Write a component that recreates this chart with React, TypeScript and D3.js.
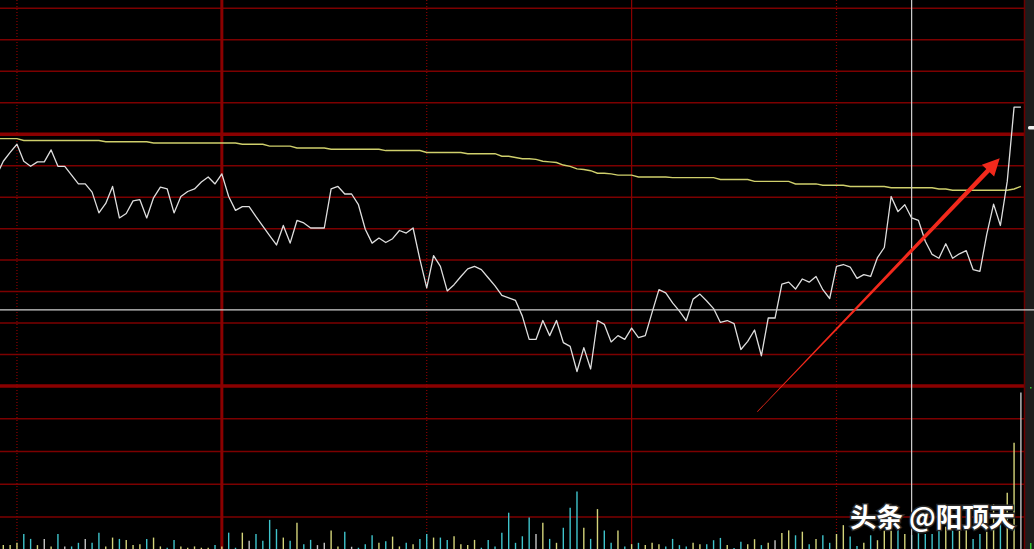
import { useEffect, useRef } from "react";
import * as d3 from "d3";

// 分时数据：第一个点是可见区域左侧之前的一分钟
const FIRST_MINUTE = -1;

// 涨跌幅(%)，每分钟一个点
const PRICE = [
  -0.66, -0.43, -0.29, -0.16, -0.43, -0.51, -0.44, -0.44, -0.25, -0.51,
  -0.51, -0.65, -0.79, -0.79, -0.92, -1.25, -1.10, -0.83, -1.33, -1.26,
  -1.06, -1.04, -1.33, -1.01, -0.84, -0.87, -1.25, -0.99, -0.91, -0.87,
  -0.76, -0.68, -0.79, -0.63, -0.99, -1.21, -1.15, -1.15, -1.31, -1.46,
  -1.61, -1.76, -1.45, -1.73, -1.37, -1.41, -1.49, -1.49, -1.49, -0.87,
  -0.83, -0.95, -0.95, -1.12, -1.51, -1.73, -1.65, -1.72, -1.66, -1.53,
  -1.57, -1.49, -1.99, -2.44, -1.93, -2.10, -2.49, -2.39, -2.26, -2.14,
  -2.10, -2.15, -2.28, -2.41, -2.56, -2.60, -2.64, -2.89, -3.26, -3.26,
  -2.96, -3.20, -2.96, -3.31, -3.37, -3.77, -3.39, -3.73, -2.96, -3.02,
  -3.30, -3.20, -3.26, -3.08, -3.23, -3.20, -2.83, -2.47, -2.52, -2.68,
  -2.81, -2.96, -2.62, -2.54, -2.65, -2.77, -2.99, -2.96, -3.01, -3.42,
  -3.29, -3.11, -3.52, -2.92, -2.92, -2.38, -2.35, -2.46, -2.30, -2.35,
  -2.26, -2.47, -2.61, -2.10, -2.07, -2.11, -2.29, -2.23, -2.26, -1.96,
  -1.80, -0.99, -1.23, -1.12, -1.33, -1.37, -1.70, -1.91, -1.97, -1.74,
  -1.97, -1.90, -1.85, -2.15, -2.18, -1.59, -1.11, -1.45, -0.75, 0.43,
  0.43,
];

// 均价线(%)
const AVG_PRICE = [
  -0.07, -0.07, -0.07, -0.07, -0.10, -0.10, -0.10, -0.10, -0.10, -0.10,
  -0.10, -0.10, -0.10, -0.10, -0.10, -0.10, -0.12, -0.12, -0.12, -0.12,
  -0.12, -0.12, -0.12, -0.14, -0.14, -0.14, -0.14, -0.14, -0.14, -0.14,
  -0.14, -0.14, -0.14, -0.14, -0.14, -0.14, -0.16, -0.16, -0.16, -0.16,
  -0.19, -0.19, -0.19, -0.19, -0.22, -0.22, -0.22, -0.22, -0.22, -0.24,
  -0.24, -0.24, -0.24, -0.24, -0.24, -0.24, -0.24, -0.26, -0.26, -0.26,
  -0.26, -0.26, -0.26, -0.29, -0.29, -0.29, -0.29, -0.29, -0.29, -0.31,
  -0.31, -0.31, -0.31, -0.31, -0.35, -0.35, -0.37, -0.39, -0.39, -0.40,
  -0.43, -0.44, -0.45, -0.49, -0.51, -0.55, -0.56, -0.58, -0.62, -0.62,
  -0.63, -0.65, -0.65, -0.65, -0.68, -0.68, -0.68, -0.68, -0.68, -0.69,
  -0.69, -0.69, -0.69, -0.69, -0.69, -0.69, -0.72, -0.72, -0.72, -0.72,
  -0.72, -0.75, -0.75, -0.75, -0.75, -0.75, -0.75, -0.79, -0.79, -0.79,
  -0.79, -0.81, -0.81, -0.81, -0.81, -0.83, -0.83, -0.83, -0.83, -0.83,
  -0.83, -0.85, -0.85, -0.85, -0.85, -0.85, -0.85, -0.85, -0.87, -0.87,
  -0.89, -0.89, -0.89, -0.89, -0.89, -0.89, -0.89, -0.89, -0.89, -0.87,
  -0.83,
];

// 成交量(手)
const VOLUME = [
  140,
  140, 140, 210, 480, 330, 140, 330, 100, 480, 100,
  100, 210, 330, 210, 520, 100, 370, 330, 300, 140,
  170, 330, 370, 100, 60, 300, 100, 60, 100, 60,
  60, 140, 100, 520, 60, 520, 270, 480, 270, 910,
  630, 370, 270, 820, 170, 300, 140, 210, 590, 100,
  550, 90, 60, 170, 440, 210, 260, 400, 100, 210,
  170, 330, 480, 370, 370, 300, 410, 170, 140, 300,
  60, 300, 100, 520, 1130, 210, 410, 980, 480, 820,
  330, 210, 670, 1280, 1780, 670, 330, 1240, 590, 210,
  590, 100, 170, 210, 140, 210, 170, 100, 330, 140,
  100, 210, 170, 170, 290, 360, 140, 50, 240, 170,
  320, 140, 210, 290, 510, 590, 440, 550, 170, 330,
  440, 210, 480, 750, 400, 110, 210, 440, 290, 580,
  580, 700, 480, 450, 550, 480, 480, 1010, 700, 580,
  640, 620, 330, 480, 550, 1390, 1360, 1740, 3270, 4800,
];

const PRICE_GRID = [2, 1.5, 1, 0.5, 0, -0.5, -1, -1.5, -2, -2.5, -3, -3.5, -4];
const VOLUME_GRID = [1000, 2000, 3000, 4000];
const TIME_LINES: { minute: number; kind: "dotted" | "thick" | "solid" }[] = [
  { minute: 2, kind: "dotted" },
  { minute: 32, kind: "thick" },
  { minute: 62, kind: "dotted" },
  { minute: 92, kind: "solid" },
  { minute: 122, kind: "dotted" },
];
const CURSOR = { minute: 133, value: -2.79 };
const ARROW = { from: [110.4, -4.41], to: [145.9, -0.383] };
const WATERMARK = "头条 @阳顶天";

const W = 1034;
const H = 549;
const PLOT_RIGHT = 1024;

const GRID_RED = "#7c0000";
const UP = "#d4d47a";
const DOWN = "#3fc4cc";
const FLAT = "#c4c4c4";

function draw(svgEl: SVGSVGElement) {
  const svg = d3.select(svgEl);
  svg.selectAll("*").remove();

  const x = d3.scaleLinear().domain([0, 149]).range([3.3, 1020.9]);
  const y = d3.scaleLinear().domain([-4, 2]).range([386, 8.3]);
  const yVol = d3.scaleLinear().domain([0, 5000]).range([549.7, 386]);

  const minutes = PRICE.map((_, k) => k + FIRST_MINUTE);

  svg.append("rect").attr("width", W).attr("height", H).attr("fill", "#000");
  // 右侧灰条
  svg.append("rect")
    .attr("x", PLOT_RIGHT + 1).attr("y", 0)
    .attr("width", W - PLOT_RIGHT - 1).attr("height", H)
    .attr("fill", "#1c1c1c");

  // 横向网格
  PRICE_GRID.forEach((v) => {
    const thick = v === 0 || v === -4;
    svg.append("line")
      .attr("x1", 0).attr("x2", PLOT_RIGHT)
      .attr("y1", y(v)).attr("y2", y(v))
      .attr("stroke", thick ? "#8a0000" : GRID_RED)
      .attr("stroke-width", thick ? 3.5 : 1.5);
  });
  VOLUME_GRID.forEach((v) => {
    svg.append("line")
      .attr("x1", 0).attr("x2", PLOT_RIGHT)
      .attr("y1", yVol(v)).attr("y2", yVol(v))
      .attr("stroke", GRID_RED)
      .attr("stroke-width", 1.5);
  });

  // 纵向时间线
  TIME_LINES.forEach(({ minute, kind }) => {
    svg.append("line")
      .attr("x1", x(minute)).attr("x2", x(minute))
      .attr("y1", 0).attr("y2", H)
      .attr("stroke", kind === "dotted" ? "#8a0000" : "#8a0000")
      .attr("stroke-width", kind === "thick" ? 3 : 1.2)
      .attr("stroke-dasharray", kind === "dotted" ? "1,2" : "none");
  });
  svg.append("line")
    .attr("x1", PLOT_RIGHT + 0.5).attr("x2", PLOT_RIGHT + 0.5)
    .attr("y1", 0).attr("y2", H)
    .attr("stroke", "#6a0000").attr("stroke-width", 1.5);

  // 成交量柱
  VOLUME.forEach((vol, k) => {
    const prev = k > 0 ? PRICE[k - 1] : PRICE[k];
    const diff = PRICE[k] - prev;
    const color = diff > 0 ? UP : diff < 0 ? DOWN : FLAT;
    svg.append("line")
      .attr("x1", x(minutes[k])).attr("x2", x(minutes[k]))
      .attr("y1", yVol(0)).attr("y2", yVol(vol))
      .attr("stroke", color)
      .attr("stroke-width", 1.4);
  });

  // 均价线
  const avgLine = d3.line<number>()
    .x((_, k) => x(minutes[k]))
    .y((d) => y(d));
  svg.append("path")
    .attr("d", avgLine(AVG_PRICE))
    .attr("fill", "none")
    .attr("stroke", "#cfcf6c")
    .attr("stroke-width", 1.4);

  // 分时价格线
  svg.append("path")
    .attr("d", avgLine(PRICE))
    .attr("fill", "none")
    .attr("stroke", "#dedede")
    .attr("stroke-width", 1.3)
    .attr("stroke-linejoin", "round");

  // 十字光标
  svg.append("line")
    .attr("x1", x(CURSOR.minute)).attr("x2", x(CURSOR.minute))
    .attr("y1", 0).attr("y2", H)
    .attr("stroke", "#d0d0d0").attr("stroke-width", 1.2);
  svg.append("line")
    .attr("x1", 0).attr("x2", W)
    .attr("y1", y(CURSOR.value)).attr("y2", y(CURSOR.value))
    .attr("stroke", "#d0d0d0").attr("stroke-width", 1.2);

  // 右侧价格标记
  svg.append("rect")
    .attr("x", 1028).attr("y", 126)
    .attr("width", 7).attr("height", 3.5).attr("rx", 1.5)
    .attr("fill", "#f0f0f0");
  svg.append("rect")
    .attr("x", 1030).attr("y", 543)
    .attr("width", 1.5).attr("height", 6)
    .attr("fill", "#2ec42e");
  svg.append("rect")
    .attr("x", 1030).attr("y", 387)
    .attr("width", 1.5).attr("height", 1.5)
    .attr("fill", "#2ec42e");

  // 红色箭头
  const [tx, ty] = [x(ARROW.from[0]), y(ARROW.from[1])];
  const [hx, hy] = [x(ARROW.to[0]), y(ARROW.to[1])];
  const len = Math.hypot(hx - tx, hy - ty);
  const ux = (hx - tx) / len, uy = (hy - ty) / len;
  const nx = -uy, ny = ux;
  const headLen = 17, headHalf = 8.5, shaftHalf = 2.3, tailHalf = 0.3;
  const bx = hx - ux * headLen, by = hy - uy * headLen;
  const pts: [number, number][] = [
    [tx + nx * tailHalf, ty + ny * tailHalf],
    [bx + nx * shaftHalf, by + ny * shaftHalf],
    [bx + nx * headHalf, by + ny * headHalf],
    [hx, hy],
    [bx - nx * headHalf, by - ny * headHalf],
    [bx - nx * shaftHalf, by - ny * shaftHalf],
    [tx - nx * tailHalf, ty - ny * tailHalf],
  ];
  svg.append("polygon")
    .attr("points", pts.map((p) => p.join(",")).join(" "))
    .attr("fill", "#f2291c");

  // 水印
  svg.append("text")
    .attr("x", 850).attr("y", 527)
    .attr("font-family", "'Noto Sans CJK SC', sans-serif")
    .attr("font-size", 26.5)
    .attr("font-weight", "bold")
    .attr("fill", "#ffffff")
    .attr("stroke", "#2a2a2a")
    .attr("stroke-width", 3)
    .attr("paint-order", "stroke")
    .text(WATERMARK);
}

export default function App() {
  const ref = useRef<SVGSVGElement>(null);
  useEffect(() => {
    if (ref.current) draw(ref.current);
  }, []);
  return (
    <svg
      ref={ref}
      width={W}
      height={H}
      style={{ position: "fixed", left: 0, top: 0, display: "block" }}
    />
  );
}
